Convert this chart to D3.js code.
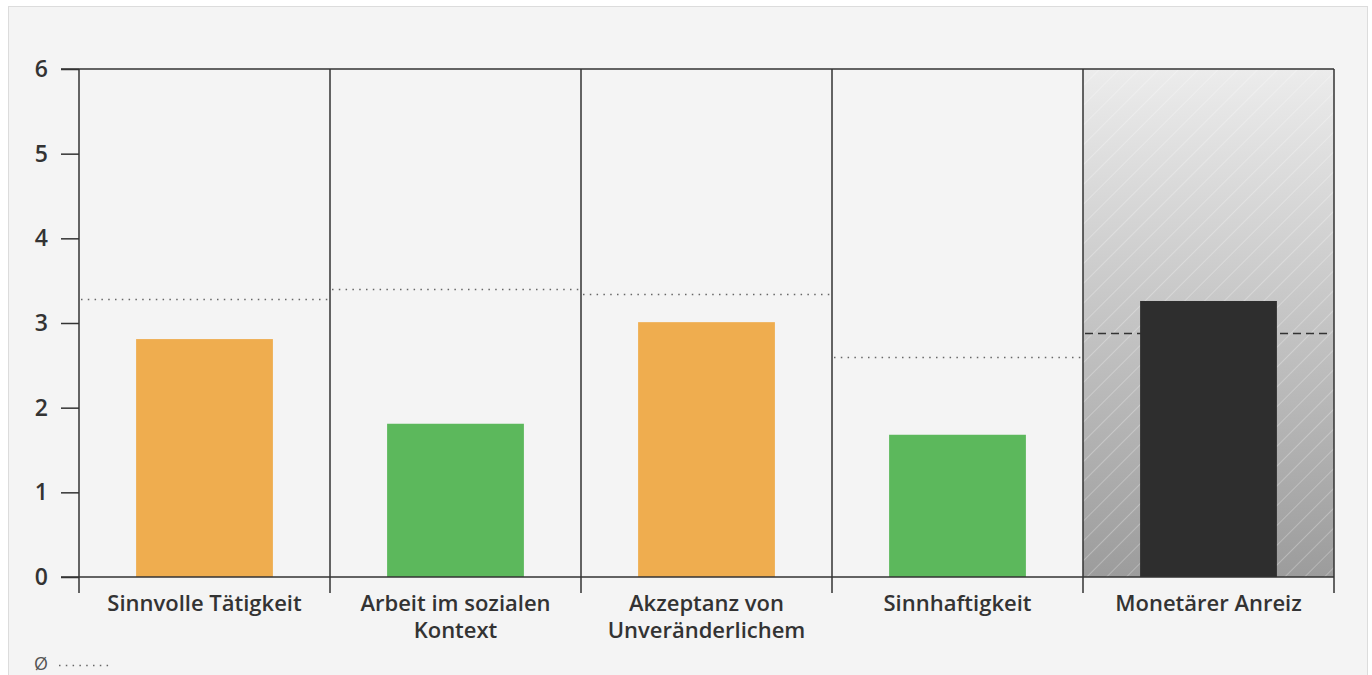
<!DOCTYPE html>
<html>
<head>
<meta charset="utf-8">
<script src="https://cdn.jsdelivr.net/npm/d3@7"></script>
<style>
    body { margin: 0; background: #fff; }
    text { font-family: "Open Sans", sans-serif; fill: #333; }
</style>
</head>
<body>
<div id="chart"></div>
<script>
var categories = [
        ['Sinnvolle Tätigkeit'],
        ['Arbeit im sozialen', 'Kontext'],
        ['Akzeptanz von', 'Unveränderlichem'],
        ['Sinnhaftigkeit'],
        ['Monetärer Anreiz']
    ],
    values = [2.81, 1.81, 3.01, 1.68, 3.26],
    averages = [3.28, 3.40, 3.34, 2.60, 2.88],
    barColors = ['#efad4f', '#5cb85c', '#efad4f', '#5cb85c', '#2e2e2e'],
    yTicks = [0, 1, 2, 3, 4, 5, 6];

var width = 1372, height = 675,
    plotLeft = 79, plotRight = 1334, plotTop = 69, plotBottom = 577;

var svg = d3.select('#chart').append('svg')
    .attr('width', width)
    .attr('height', height);

var defs = svg.append('defs');
var grad = defs.append('linearGradient')
    .attr('id', 'hlGrad')
    .attr('x1', 0).attr('y1', 0).attr('x2', 0).attr('y2', 1);
grad.append('stop').attr('offset', '0%').attr('stop-color', '#ececec');
grad.append('stop').attr('offset', '100%').attr('stop-color', '#9c9c9c');

var hatch = defs.append('pattern')
    .attr('id', 'hatch')
    .attr('patternUnits', 'userSpaceOnUse')
    .attr('width', 14).attr('height', 14)
    .attr('patternTransform', 'rotate(45)');
hatch.append('line')
    .attr('x1', 0).attr('y1', 0).attr('x2', 0).attr('y2', 14)
    .style('stroke', '#fff').style('stroke-opacity', 0.35).style('stroke-width', 1.5);

// panel
svg.append('rect')
    .attr('x', 8.5).attr('y', 6.5)
    .attr('width', 1359).attr('height', 680)
    .style('fill', '#f4f4f4')
    .style('stroke', '#dcdcdc');

var x = d3.scaleBand()
    .domain(d3.range(categories.length))
    .range([plotLeft, plotRight]);

var y = d3.scaleLinear()
    .domain([0, 6])
    .range([plotBottom, plotTop]);

// highlighted band
var hi = categories.length - 1;
svg.append('rect')
    .attr('x', x(hi)).attr('y', y(6))
    .attr('width', x.bandwidth()).attr('height', y(0) - y(6))
    .style('fill', 'url(#hlGrad)');
svg.append('rect')
    .attr('x', x(hi)).attr('y', y(6))
    .attr('width', x.bandwidth()).attr('height', y(0) - y(6))
    .style('fill', 'url(#hatch)');

// average lines
svg.selectAll('.avg')
    .data(averages)
    .enter().append('line')
    .attr('class', 'avg')
    .attr('x1', function (d, i) { return x(i) + 2; })
    .attr('x2', function (d, i) { return x(i) + x.bandwidth() - 2; })
    .attr('y1', function (d) { return Math.round(y(d)) + 0.5; })
    .attr('y2', function (d) { return Math.round(y(d)) + 0.5; })
    .style('stroke', function (d, i) { return i === hi ? '#333' : '#666'; })
    .style('stroke-width', 1.5)
    .style('stroke-dasharray', function (d, i) { return i === hi ? '8,5' : '1.5,5.3'; });

// bars
var barW = x.bandwidth() * 0.545;
svg.selectAll('.bar')
    .data(values)
    .enter().append('rect')
    .attr('class', 'bar')
    .attr('x', function (d, i) { return x(i) + (x.bandwidth() - barW) / 2; })
    .attr('y', function (d) { return y(d); })
    .attr('width', barW)
    .attr('height', function (d) { return y(0) - y(d); })
    .style('fill', function (d, i) { return barColors[i]; });

// frame lines
var frame = svg.append('g').style('stroke', '#333').style('stroke-width', 1.5);
frame.append('line')
    .attr('x1', plotLeft - 18).attr('x2', plotRight)
    .attr('y1', y(6)).attr('y2', y(6));
frame.append('line')
    .attr('x1', plotLeft - 18).attr('x2', plotRight)
    .attr('y1', y(0)).attr('y2', y(0));
svg.append('g').selectAll('.sep')
    .data(d3.range(categories.length + 1))
    .enter().append('line')
    .attr('class', 'sep')
    .attr('x1', function (d) { return d < categories.length ? x(d) : plotRight; })
    .attr('x2', function (d) { return d < categories.length ? x(d) : plotRight; })
    .attr('y1', y(6))
    .attr('y2', y(0) + 16)
    .style('stroke', '#333').style('stroke-width', 1.5);

// y axis
var yAxis = svg.append('g')
    .attr('transform', 'translate(' + plotLeft + ',0)')
    .call(d3.axisLeft(y).tickValues(yTicks).tickFormat(d3.format('d')).tickSize(18).tickPadding(13));
yAxis.select('.domain').remove();
yAxis.selectAll('line').style('stroke', '#333').style('stroke-width', 1.5);
yAxis.selectAll('text')
    .style('font-family', '"Open Sans", sans-serif')
    .style('font-size', '23px')
    .style('font-weight', 600)
    .style('fill', '#333');

// category labels
var labels = svg.selectAll('.cat')
    .data(categories)
    .enter().append('text')
    .attr('class', 'cat')
    .attr('text-anchor', 'middle')
    .style('font-size', '22px')
    .style('font-weight', 600);
labels.each(function (lines, i) {
    d3.select(this).selectAll('tspan')
        .data(lines)
        .enter().append('tspan')
        .attr('x', x(i) + x.bandwidth() / 2)
        .attr('y', function (d, j) { return 611 + j * 26.5; })
        .text(function (d) { return d; });
});

// legend
svg.append('text')
    .attr('x', 34).attr('y', 670)
    .style('font-size', '18px')
    .style('fill', '#555')
    .text('Ø');
svg.append('line')
    .attr('x1', 59).attr('x2', 112)
    .attr('y1', 665.5).attr('y2', 665.5)
    .style('stroke', '#666')
    .style('stroke-width', 1.5)
    .style('stroke-dasharray', '1.5,5.3');
</script>
</body>
</html>
